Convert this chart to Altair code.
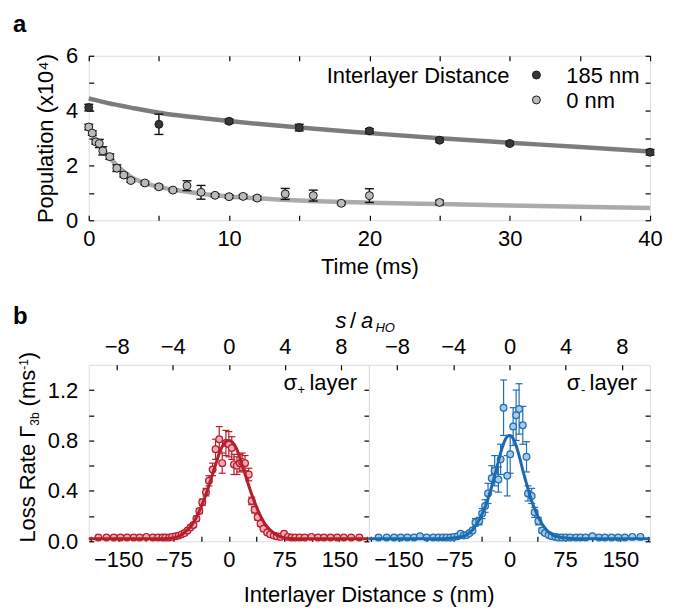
import altair as alt
import pandas as pd

FONT = "Liberation Sans"
FS = 22

# ---------------- panel a data ----------------
series = ["185 nm", "0 nm"]
t_185 = [0, 5, 10, 15, 20, 25, 30, 40]
pop_185 = [4.11, 3.50, 3.61, 3.38, 3.26, 2.92, 2.80, 2.48]
err_185 = [0.12, 0.37, 0.08, 0.12, 0.08, 0.07, 0.07, 0.10]

t_0 = [0, 0.25, 0.5, 0.75, 1.0, 1.5, 2.0, 2.5, 3.0, 4, 5, 6, 7, 8, 9, 10, 11, 12, 14, 16, 18, 20, 25]
pop_0 = [3.40, 3.18, 2.86, 2.80, 2.53, 2.32, 1.90, 1.65, 1.45, 1.36, 1.22, 1.10, 1.26, 1.02,
         0.91, 0.86, 0.87, 0.81, 0.96, 0.90, 0.62, 0.90, 0.65]
err_0 = [0.10, 0.08, 0.08, 0.15, 0.15, 0.10, 0.12, 0.07, 0.06, 0.06, 0.06, 0.05, 0.18, 0.25,
         0.06, 0.06, 0.07, 0.07, 0.20, 0.20, 0.05, 0.25, 0.08]

fit_t = [0, 0.5, 1, 1.5, 2, 3, 4, 5, 6, 8, 10, 12, 15, 20, 25, 30, 35, 40]
fit_185 = [4.44, 4.38, 4.32, 4.26, 4.21, 4.11, 4.01, 3.92, 3.85, 3.73, 3.62, 3.52, 3.38, 3.18, 2.99, 2.83, 2.67, 2.51]
fit_0 = [3.35, 2.95, 2.60, 2.28, 2.00, 1.58, 1.35, 1.22, 1.12, 0.97, 0.87, 0.80, 0.72, 0.64, 0.59, 0.54, 0.49, 0.45]

time_ticks = [0, 5, 10, 15, 20, 25, 30, 35, 40]
pop_ticks = [0, 1, 2, 3, 4, 5, 6]

# ---------------- panel b data ----------------
sp_x = [-177, -166, -156, -147, -138, -129, -121, -112, -103, -96, -90, -86, -81, -77,
        -72, -68, -64, -60, -56, -52, -48, -44, -40, -36, -31, -27, -22, -18, -13, -9, -4,
        0, 4, 7, 11, 15, 18, 22, 27,
        31, 35, 39, 43, 47, 52, 56, 61, 65, 70,
        75, 80, 85, 90, 96, 103, 112, 121, 129, 138, 147, 156, 166, 177]
sp_y = [0.03, 0.03, 0.03, 0.03, 0.03, 0.03, 0.03, 0.035, 0.03, 0.03, 0.03, 0.03, 0.03, 0.035,
        0.04, 0.045, 0.055, 0.065, 0.085, 0.11, 0.13, 0.18, 0.24, 0.31, 0.39, 0.48, 0.57, 0.73, 0.81, 0.62, 0.78,
        0.77, 0.74, 0.61, 0.60, 0.62, 0.63, 0.62, 0.53,
        0.32, 0.25, 0.19, 0.14, 0.10, 0.07, 0.055, 0.045, 0.04, 0.035,
        0.06, 0.035, 0.03, 0.03, 0.03, 0.03, 0.035, 0.03, 0.03, 0.03, 0.03, 0.03, 0.03, 0.03]
sp_e = [0.008] * 14 + \
       [0.008, 0.008, 0.01, 0.01, 0.012, 0.015, 0.015, 0.02, 0.02, 0.025, 0.03, 0.04, 0.05, 0.08, 0.10, 0.08, 0.10] + \
       [0.10, 0.09, 0.08, 0.07, 0.07, 0.07, 0.06, 0.05] + \
       [0.03, 0.025, 0.02, 0.02, 0.015, 0.012, 0.01, 0.01, 0.008, 0.008] + \
       [0.01] + [0.008] * 13

sm_x = [-177, -166, -156, -147, -138, -129, -121, -112, -103, -96, -90, -85, -80, -75,
        -70, -66, -62, -58, -54, -50, -46, -41, -37, -33, -29, -24, -20, -15, -12, -8, -3,
        1, 5, 9, 13, 18, 23,
        25, 30, 34, 39, 44, 48, 53, 57, 62, 66, 71, 76, 82,
        90, 96, 103, 112, 121, 129, 138, 147, 156, 166, 177]
sm_y = [0.03, 0.03, 0.03, 0.03, 0.03, 0.03, 0.04, 0.03, 0.03, 0.03, 0.03, 0.03, 0.03, 0.035,
        0.04, 0.06, 0.045, 0.05, 0.065, 0.086, 0.15, 0.16, 0.22, 0.28, 0.38, 0.50, 0.56, 0.49, 0.65, 1.06, 0.52,
        0.69, 0.91, 1.00, 1.05, 0.92, 0.67,
        0.38, 0.36, 0.23, 0.16, 0.086, 0.065, 0.05, 0.04, 0.035, 0.03, 0.03, 0.03, 0.03,
        0.03, 0.03, 0.03, 0.04, 0.03, 0.03, 0.03, 0.03, 0.03, 0.035, 0.035]
sm_e = [0.008] * 14 + \
       [0.008, 0.01, 0.01, 0.01, 0.012, 0.015, 0.03, 0.03, 0.04, 0.05, 0.08, 0.10, 0.12, 0.10, 0.12, 0.22, 0.16] + \
       [0.15, 0.15, 0.20, 0.20, 0.15, 0.12] + \
       [0.06, 0.06, 0.04, 0.03, 0.02, 0.015, 0.01, 0.01, 0.008, 0.008, 0.008, 0.008, 0.008] + \
       [0.008] * 11

fit_s = [-190, -100, -80, -70, -60, -50, -40, -30, -20, -10, -5, 0, 5, 10, 20, 30, 40, 50, 60, 70, 80, 100, 190]
fit_plus = [0.02, 0.02, 0.025, 0.035, 0.07, 0.13, 0.24, 0.39, 0.57, 0.74, 0.785, 0.80, 0.785, 0.74,
            0.57, 0.39, 0.24, 0.13, 0.07, 0.035, 0.025, 0.02, 0.02]
fit_minus = [0.02, 0.02, 0.025, 0.03, 0.045, 0.09, 0.18, 0.32, 0.52, 0.74, 0.815, 0.84, 0.815, 0.74,
             0.52, 0.32, 0.18, 0.09, 0.045, 0.03, 0.025, 0.02, 0.02]

nm_ticks = [-187.5, -150, -112.5, -75, -37.5, 0, 37.5, 75, 112.5, 150, 187.5]
rate_ticks = [0, 0.2, 0.4, 0.6, 0.8, 1.0, 1.2]
aho_ticks = [-8, -4, 0, 4, 8]

ONE = pd.DataFrame({"k": [0]})


def ax(orient, values, labels=True, fmt=None, label_expr=None, title=None,
       label_padding=8, title_padding=8):
    kw = dict(orient=orient, values=values, offset=-5, tickSize=5, tickWidth=1.2,
              tickColor="black", domain=False, grid=False, labels=labels,
              labelFont=FONT, labelFontSize=FS, labelColor="black",
              labelPadding=label_padding, labelFlush=False, labelOverlap=False,
              title=title, titleFont=FONT, titleFontSize=FS, titleFontWeight="normal",
              titleColor="black", titlePadding=title_padding)
    if fmt is not None:
        kw["format"] = fmt
    if label_expr is not None:
        kw["labelExpr"] = label_expr
    return alt.Axis(**kw)


def txt(s, x, y, size=FS, align="left", angle=0, style="normal", weight="normal"):
    return alt.Chart(ONE).mark_text(
        text=s, align=align, baseline="alphabetic", angle=angle, font=FONT,
        fontSize=size, fontStyle=style, fontWeight=weight, color="black"
    ).encode(x=alt.value(x), y=alt.value(y))


# ---------------- panel a ----------------
WA, HA = 563, 165
pts_a = pd.concat([
    pd.DataFrame({"t": t_185, "pop": pop_185, "err": err_185, "series": series[0]}),
    pd.DataFrame({"t": t_0, "pop": pop_0, "err": err_0, "series": series[1]}),
])
pts_a["lo"] = pts_a["pop"] - pts_a["err"]
pts_a["hi"] = pts_a["pop"] + pts_a["err"]
fit_a = pd.concat([
    pd.DataFrame({"t": fit_t, "pop": fit_185, "series": series[0]}),
    pd.DataFrame({"t": fit_t, "pop": fit_0, "series": series[1]}),
])

fill_scale = alt.Scale(domain=series, range=["#383838", "#bababa"])


def XA(axis=None, field="t"):
    return alt.X(f"{field}:Q", scale=alt.Scale(domain=[0, 40], nice=False, zero=False), axis=axis)


def YA(axis=None, field="pop"):
    return alt.Y(f"{field}:Q", scale=alt.Scale(domain=[0, 6], nice=False, zero=False), axis=axis)


line_a = alt.Chart(fit_a).mark_line(strokeWidth=4.5, interpolate="monotone").encode(
    x=XA(ax("bottom", time_ticks, fmt="d", label_expr="datum.value % 10 == 0 ? datum.label : ''",
            title="Time (ms)", label_padding=8, title_padding=7)),
    y=YA(ax("left", pop_ticks, fmt="d", label_expr="datum.value % 2 == 0 ? datum.label : ''",
            title="Population (x10⁴)", label_padding=11, title_padding=8)),
    stroke=alt.Stroke("series:N", scale=alt.Scale(domain=series, range=["#7c7c7c", "#ababab"]), legend=None),
)
stem_a = alt.Chart(pts_a).mark_rule(color="#111111", strokeWidth=1.4).encode(
    x=XA(), y=YA(field="lo"), y2="hi:Q")
caplo_a = alt.Chart(pts_a).mark_rule(color="#111111", strokeWidth=1.4, xOffset=-4.5, x2Offset=4.5).encode(
    x=XA(), x2=alt.X2("t"), y=YA(field="lo"))
caphi_a = alt.Chart(pts_a).mark_rule(color="#111111", strokeWidth=1.4, xOffset=-4.5, x2Offset=4.5).encode(
    x=XA(), x2=alt.X2("t"), y=YA(field="hi"))
dots_a = alt.Chart(pts_a).mark_point(shape="circle", filled=True, size=64, stroke="#1a1a1a",
                                     strokeWidth=1, opacity=1).encode(
    x=XA(), y=YA(), fill=alt.Fill("series:N", scale=fill_scale, legend=None))
top_a = alt.Chart(pd.DataFrame({"t": time_ticks})).mark_point(opacity=0).encode(
    x=XA(ax("top", time_ticks, labels=False)))
right_a = alt.Chart(pd.DataFrame({"pop": pop_ticks})).mark_point(opacity=0).encode(
    y=YA(ax("right", pop_ticks, labels=False)))

# legend (drawn from the series list through a point scale)
leg_df = pd.DataFrame({"series": series})
leg_y = alt.Y("series:N", scale=alt.Scale(type="point", domain=series, range=[19.3, 44.3], padding=0), axis=None)
leg_sym = alt.Chart(leg_df).mark_point(shape="circle", filled=True, size=64, stroke="#1a1a1a",
                                       strokeWidth=1, opacity=1).encode(
    x=alt.value(449), y=leg_y, fill=alt.Fill("series:N", scale=fill_scale, legend=None))
leg_lab = alt.Chart(leg_df).mark_text(align="left", baseline="alphabetic", dy=8, font=FONT,
                                      fontSize=FS, color="black").encode(
    x=alt.value(479), y=leg_y, text="series:N")

chart_a = alt.layer(
    line_a, stem_a, caplo_a, caphi_a, dots_a, top_a, right_a, leg_sym, leg_lab,
    txt("Interlayer Distance", 422, 27.3, align="right"),
    txt("a", -76, -24, size=24, weight="bold"),
).resolve_scale(x="independent", y="independent").properties(width=WA, height=HA)

# ---------------- panel b ----------------
HB = 177


def XB(axis=None, field="s"):
    return alt.X(f"{field}:Q", scale=alt.Scale(domain=[-190, 190], nice=False, zero=False), axis=axis)


def YB(axis=None, field="r"):
    return alt.Y(f"{field}:Q", scale=alt.Scale(domain=[0, 1.4], nice=False, zero=False), axis=axis)


def panel_b(xs, ys, es, fit_y, line_col, fill_col, stroke_col, width, left_labels, extra):
    df = pd.DataFrame({"s": xs, "r": ys, "e": es})
    df["lo"] = df["r"] - df["e"]
    df["hi"] = df["r"] + df["e"]
    fdf = pd.DataFrame({"s": fit_s, "r": fit_y})
    bottom_axis = ax("bottom", nm_ticks, fmt="d",
                     label_expr="abs(datum.value) % 75 == 0 ? datum.label : ''", label_padding=8)
    left_axis = None
    if left_labels:
        left_axis = ax("left", rate_ticks, fmt=".1f",
                       label_expr="round(datum.value * 10) % 4 == 0 ? datum.label : ''", label_padding=11)
    stem = alt.Chart(df).mark_rule(color=stroke_col, strokeWidth=1.2).encode(
        x=XB(), y=YB(field="lo"), y2="hi:Q")
    caplo = alt.Chart(df).mark_rule(color=stroke_col, strokeWidth=1.2, xOffset=-3.5, x2Offset=3.5).encode(
        x=XB(), x2=alt.X2("s"), y=YB(field="lo"))
    caphi = alt.Chart(df).mark_rule(color=stroke_col, strokeWidth=1.2, xOffset=-3.5, x2Offset=3.5).encode(
        x=XB(), x2=alt.X2("s"), y=YB(field="hi"))
    dots = alt.Chart(df).mark_point(shape="circle", filled=True, size=46, fill=fill_col,
                                    stroke=stroke_col, strokeWidth=1.2, opacity=1).encode(
        x=XB(bottom_axis), y=YB(left_axis))
    line = alt.Chart(fdf).mark_line(color=line_col, strokeWidth=3, interpolate="monotone").encode(
        x=XB(), y=YB())
    top = alt.Chart(pd.DataFrame({"u": aho_ticks})).mark_point(opacity=0).encode(
        x=alt.X("u:Q", scale=alt.Scale(domain=[-10, 10], nice=False, zero=False),
                axis=ax("top", aho_ticks, fmt="d", label_padding=6)))
    right = alt.Chart(pd.DataFrame({"r": rate_ticks})).mark_point(opacity=0).encode(
        y=YB(ax("right", rate_ticks, labels=False)))
    return alt.layer(stem, caplo, caphi, dots, line, top, right, *extra).resolve_scale(
        x="independent", y="independent").properties(width=width, height=HB)


WL, WR = 281, 282

left_extra = [
    txt("b", -76, -41, size=24, weight="bold"),
    # sigma+ label
    txt("layer", 269, 25, align="right"),
    txt("+", 217, 29, size=13, align="right"),
    txt("σ", 209, 25, align="right"),
    # y title: Loss Rate Γ3b (ms-1), reading upwards
    txt("Loss Rate Γ", -54, 61.1, align="right", angle=270),
    txt("3b", -49.5, 61.1, size=12, angle=270),
    txt("(ms", -54, 41.7, angle=270),
    txt("-1", -61, 5.0, size=12, angle=270),
    txt(")", -54, -5.7, angle=270),
    # top title: s / a_HO
    txt("s", 247.5, -37, style="italic"),
    txt("/", 262, -37),
    txt("a", 273, -37, style="italic"),
    txt("HO", 287.5, -33, size=13, style="italic"),
    # bottom title: Interlayer Distance s (nm)
    txt("Interlayer Distance", 338.7, 238, align="right"),
    txt("s", 344.8, 238, style="italic"),
    txt("(nm)", 361.9, 238),
]
right_extra = [
    txt("layer", 269, 25, align="right"),
    txt("-", 217, 29, size=13, align="right"),
    txt("σ", 212, 25, align="right"),
]

bl = panel_b(sp_x, sp_y, sp_e, fit_plus, "#b3202c", "#f2aab4", "#b71c2c", WL, True, left_extra)
br = panel_b(sm_x, sm_y, sm_e, fit_minus, "#1b6aae", "#a9c9ea", "#1f6fb2", WR, False, right_extra)

bottom = alt.hconcat(bl, br, spacing=0, bounds="flush")
chart = alt.vconcat(chart_a, bottom, spacing=145, bounds="flush").properties(
    padding={"left": 4, "top": 3, "right": 5, "bottom": 0}
).configure_view(stroke="black", strokeWidth=1.2).configure(background="white")

chart.save("out.html", embed_options={"renderer": "svg", "actions": False})
